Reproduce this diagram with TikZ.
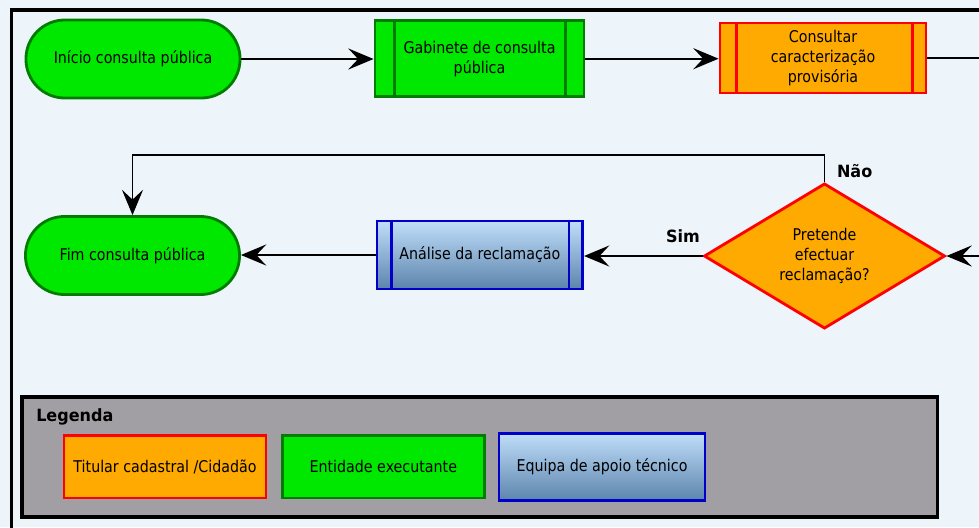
\documentclass[tikz,border=0pt]{standalone}
\usepackage{fontspec}
\setmainfont{DejaVu Sans}[FakeStretch=0.88]
\newfontfamily\rotulofont{DejaVu Sans}[FakeStretch=0.95]
\usetikzlibrary{arrows.meta,shapes.geometric}

\definecolor{fundo}{RGB}{237,244,250}
\definecolor{verde}{RGB}{0,232,0}
\definecolor{verdeesc}{RGB}{0,125,0}
\definecolor{laranja}{RGB}{255,170,0}
\definecolor{azulclaro}{RGB}{192,222,250}
\definecolor{azulesc}{RGB}{92,132,172}
\definecolor{azulborda}{RGB}{0,0,200}
\definecolor{cinza}{RGB}{161,159,164}

\begin{document}
\begin{tikzpicture}[x=0.025cm,y=-0.025cm,
  >={Stealth[length=18pt,width=15pt,inset=7pt]},
  texto/.style={font=\fontsize{11.5}{14.1}\selectfont, align=center},
  terminal/.style={texto, draw=verdeesc, fill=verde, line width=2pt, rounded corners=0.97cm, minimum width=5.35cm, minimum height=1.95cm},
  entidade/.style={texto, draw=verdeesc, fill=verde, line width=2pt},
  titular/.style={texto, draw=red, fill=laranja, line width=2pt},
  apoio/.style={texto, draw=azulborda, top color=azulclaro, bottom color=azulesc, line width=2pt},
  decisao/.style={texto, diamond, draw=red, fill=laranja, line width=2pt, inner sep=0pt, minimum width=6.025cm, minimum height=3.45cm},
  lbl/.style={font=\rotulofont\bfseries\fontsize{12}{14}\selectfont, inner sep=0pt},
  seta/.style={line width=1.4pt, ->},
  retorno/.style={line width=0.8pt, ->}]

\useasboundingbox (0,0) rectangle (979,527);
\clip (0,0) rectangle (979,527);

%% background and frame
\fill[fundo] (0,0) rectangle (979,527);
\draw[line width=2.5pt] (11.5,540) |- (990,10);

%% flow nodes
\node[terminal] (inicio) at (133,59) {Início consulta pública};
\node[entidade, minimum width=5.225cm, minimum height=1.9cm] (gabinete) at (479.5,58.7) {Gabinete de consulta\\pública};
\node[titular, minimum width=5.15cm, minimum height=1.75cm] (consultar) at (823,58) {Consultar\\caracterização\\provisória};
\node[decisao] (decisao) at (824.5,256) {Pretende\\efectuar\\reclamação?};
\node[apoio, minimum width=5.14cm, minimum height=1.7cm] (analise) at (479.8,255) {Análise da reclamação};
\node[terminal] (fim) at (132.5,255.5) {Fim consulta pública};

%% side bars of the process boxes
\draw[verdeesc, line width=2pt] ([xshift=0.525cm]gabinete.north west) -- ([xshift=0.525cm]gabinete.south west);
\draw[verdeesc, line width=2pt] ([xshift=-0.5cm]gabinete.north east) -- ([xshift=-0.5cm]gabinete.south east);
\draw[red, line width=2pt] ([xshift=0.45cm]consultar.north west) -- ([xshift=0.45cm]consultar.south west);
\draw[red, line width=2pt] ([xshift=-0.375cm]consultar.north east) -- ([xshift=-0.375cm]consultar.south east);
\draw[azulborda, line width=2pt] ([xshift=0.4cm]analise.north west) -- ([xshift=0.4cm]analise.south west);
\draw[azulborda, line width=2pt] ([xshift=-0.375cm]analise.north east) -- ([xshift=-0.375cm]analise.south east);

%% free ends and bends
\coordinate (saida) at (995,58);
\coordinate (entrada) at (995,256);
\coordinate (topo) at (0,155);

%% connectors
\draw[seta] (inicio.east) -- (inicio.east -| gabinete.west);
\draw[seta] (gabinete.east) -- (gabinete.east -| consultar.west);
\draw[line width=1pt] (consultar.east) -- (saida);
\draw[line width=1pt, ->] (entrada) -- (decisao.east);
\draw[seta] (decisao.west) -- (decisao.west -| analise.east)
  node[lbl, pos=0.165, above=9pt] (sim) {Sim};
\draw[seta] (analise.west) -- (analise.west -| fim.east);
\draw[retorno] (decisao.north) -- (decisao.north |- topo)
  node[lbl, pos=0.12, anchor=south west, xshift=8.5pt] (nao) {Não}
  -| (fim.north);

%% legend
\node[draw=black, fill=cinza, line width=2.5pt, minimum width=22.89cm, minimum height=3cm] (legenda) at (479.8,457) {};
\node[lbl, anchor=west] (legtitulo) at (36,417) {Legenda};
\node[titular, minimum width=5.05cm, minimum height=1.55cm] (legtitular) at (165,466.9) {Titular cadastral /Cidadão};
\node[entidade, minimum width=5.04cm, minimum height=1.55cm] (legentidade) at (383.3,466.9) {Entidade executante};
\node[apoio, minimum width=5.15cm, minimum height=1.69cm] (legapoio) at (602,466.9) {Equipa de apoio técnico};

\end{tikzpicture}
\end{document}
